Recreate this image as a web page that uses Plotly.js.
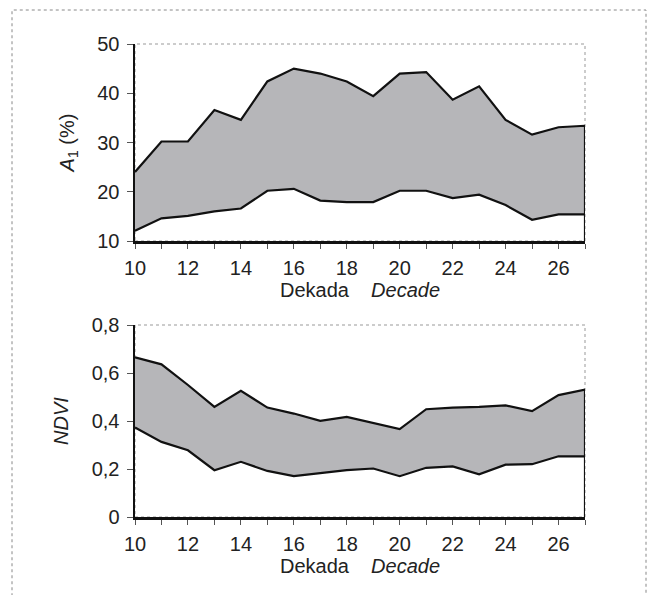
<!DOCTYPE html>
<html>
<head>
<meta charset="utf-8">
<script src="https://cdn.plot.ly/plotly-3.0.1.min.js"></script>
<style>html,body{margin:0;padding:0;background:#fff;}#chart{width:651px;height:595px;}</style>
</head>
<body>
<div id="chart"></div>
<script>
// Decades (dekada)
const decades = [10,11,12,13,14,15,16,17,18,19,20,21,22,23,24,25,26,27];
// A1 (%) envelope
const a1Upper = [24.0,30.2,30.2,36.6,34.6,42.4,45.0,44.0,42.4,39.4,44.0,44.3,38.7,41.4,34.6,31.6,33.1,33.4];
const a1Lower = [12.1,14.6,15.1,16.0,16.6,20.2,20.6,18.2,17.9,17.9,20.2,20.2,18.7,19.4,17.3,14.3,15.4,15.4];
// NDVI envelope
const ndviUpper = [0.665,0.636,0.550,0.459,0.526,0.456,0.431,0.401,0.417,0.392,0.366,0.449,0.456,0.459,0.465,0.441,0.508,0.531];
const ndviLower = [0.373,0.313,0.278,0.195,0.230,0.192,0.170,0.181,0.195,0.202,0.170,0.205,0.211,0.178,0.218,0.220,0.253,0.253];
// Tick labels
const xTickVals = [10,12,14,16,18,20,22,24,26];
const xTickText = ['10','12','14','16','18','20','22','24','26'];
const a1TickVals = [10,20,30,40,50];
const a1TickText = ['10','20','30','40','50'];
const ndviTickVals = [0,0.2,0.4,0.6,0.8];
const ndviTickText = ['0','0,2','0,4','0,6','0,8'];

const a1Range = [10,50];
const ndviRange = [0,0.8];

const FILL = '#b6b6b9';
const FONT = {family: 'Liberation Sans, Arial, sans-serif', size: 20, color: '#222'};

function band(upper, lower, xa, ya) {
  return {
    x: decades.concat(decades.slice().reverse()),
    y: upper.concat(lower.slice().reverse()),
    xaxis: xa, yaxis: ya,
    type: 'scatter', mode: 'lines', fill: 'toself',
    fillcolor: FILL, line: {color: '#111', width: 2.2},
    hoverinfo: 'skip', showlegend: false
  };
}
function rightEdge(lower, rng, xa, ya) {
  const last = decades[decades.length-1];
  return {
    x: [last, last], y: [lower[lower.length-1], rng[0]],
    xaxis: xa, yaxis: ya, type: 'scatter', mode: 'lines',
    line: {color: '#111', width: 2.2}, hoverinfo: 'skip', showlegend: false
  };
}

const traces = [
  band(a1Upper, a1Lower, 'x', 'y'),
  rightEdge(a1Lower, a1Range, 'x', 'y'),
  band(ndviUpper, ndviLower, 'x2', 'y2'),
  rightEdge(ndviLower, ndviRange, 'x2', 'y2')
];

const xDom = [135/651, 585/651];
function xAxis(anchor) {
  return {
    domain: xDom, anchor: anchor, range: [10,27],
    tickvals: xTickVals, ticktext: xTickText,
    ticks: 'outside', ticklen: 5, tickwidth: 1, tickcolor: '#555',
    minor: {tickvals: decades, ticks: 'outside', ticklen: 5, tickwidth: 1, tickcolor: '#555', showgrid: false},
    ticklabelstandoff: 2,
    showline: true, linecolor: '#111', linewidth: 2.5,
    showgrid: false, zeroline: false, tickfont: FONT,
    title: {text: 'Dekada    <i>Decade</i>', font: FONT, standoff: 3},
    automargin: false
  };
}
function yAxis(anchor, dom, rng, tv, tt, title) {
  return {
    domain: dom, anchor: anchor, range: rng,
    tickvals: tv, ticktext: tt,
    ticks: 'outside', ticklen: 6, tickwidth: 1, tickcolor: '#555',
    ticklabelstandoff: 3,
    showline: true, linecolor: '#111', linewidth: 2.5,
    showgrid: false, zeroline: false, tickfont: FONT,
    title: {text: title, font: FONT, standoff: 18},
    automargin: false
  };
}

const layout = {
  width: 651, height: 595,
  margin: {l: 0, r: 0, t: 0, b: 0},
  paper_bgcolor: '#fff', plot_bgcolor: '#fff',
  font: FONT, showlegend: false,
  xaxis: xAxis('y'),
  yaxis: yAxis('x', [1-241/595, 1-44/595], a1Range, a1TickVals, a1TickText, '<i>A</i><sub>1</sub> (%)'),
  xaxis2: xAxis('y2'),
  yaxis2: yAxis('x2', [1-517/595, 1-325/595], ndviRange, ndviTickVals, ndviTickText, '<i>NDVI</i>'),
  shapes: [
    {type: 'rect', xref: 'paper', yref: 'paper', x0: 12/651, x1: 646/651, y0: -0.05, y1: 1-10/595,
     line: {color: '#888', width: 1, dash: 'dot'}, layer: 'below'},
    {type: 'rect', xref: 'x domain', yref: 'y domain', x0: 0, x1: 1, y0: 0, y1: 1,
     line: {color: '#999', width: 1, dash: 'dot'}, layer: 'below'},
    {type: 'rect', xref: 'x2 domain', yref: 'y2 domain', x0: 0, x1: 1, y0: 0, y1: 1,
     line: {color: '#999', width: 1, dash: 'dot'}, layer: 'below'}
  ]
};

Plotly.newPlot('chart', traces, layout, {staticPlot: true, displayModeBar: false});
</script>
</body>
</html>
